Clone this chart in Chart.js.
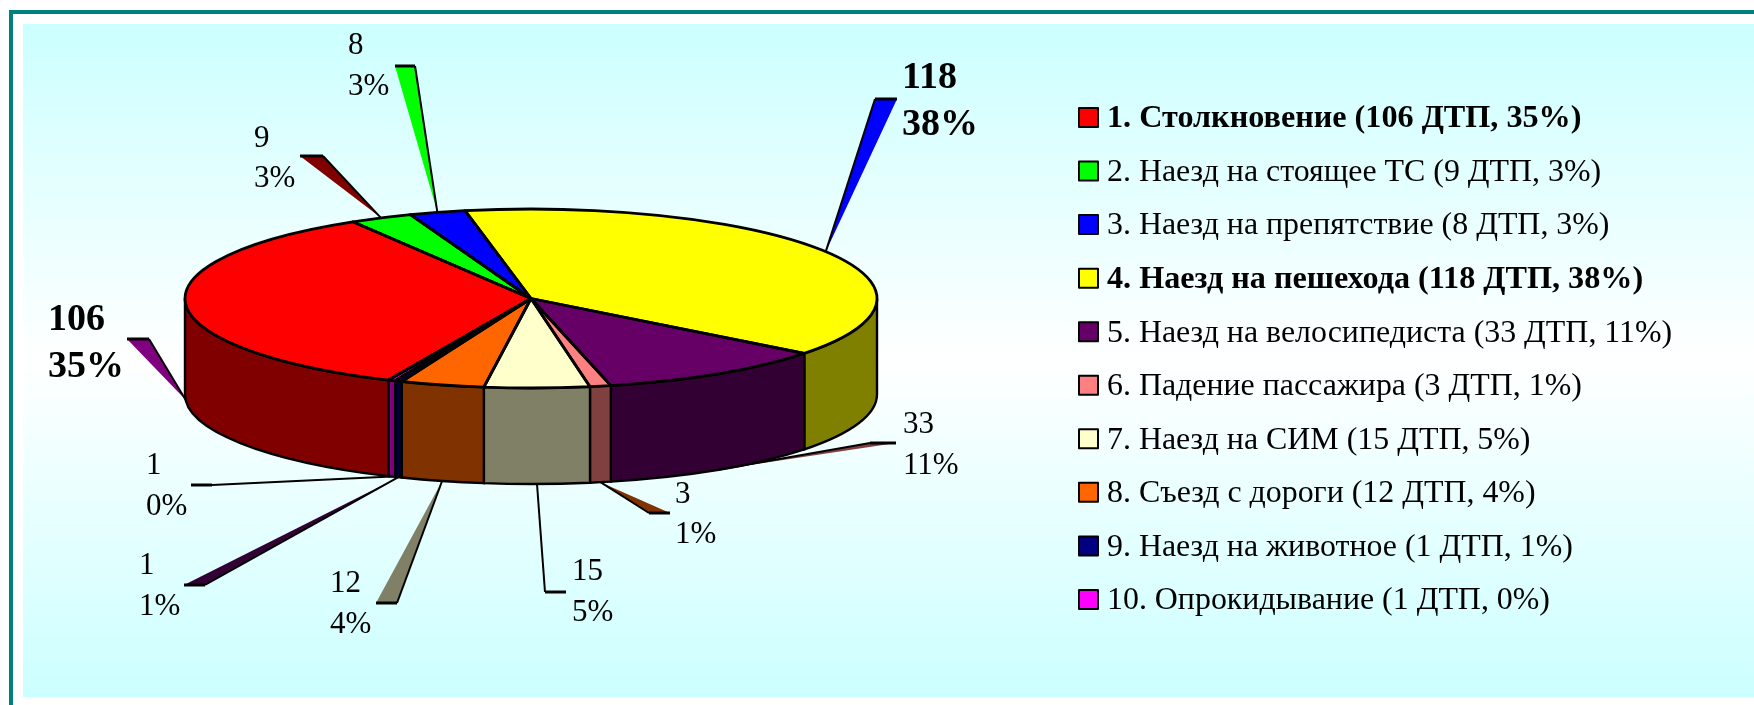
<!DOCTYPE html>
<html><head><meta charset="utf-8">
<style>html,body{margin:0;padding:0;background:#fff}canvas{display:block}</style>
<script src="https://cdn.jsdelivr.net/npm/chart.js@4"></script>
</head><body>
<canvas id="c" width="1754" height="705"></canvas>
<script>
const categories = ["Столкновение","Наезд на стоящее ТС","Наезд на препятствие","Наезд на пешехода","Наезд на велосипедиста","Падение пассажира","Наезд на СИМ","Съезд с дороги","Наезд на животное","Опрокидывание"];
const values = [106,9,8,118,33,3,15,12,1,1];
const percents = [35,3,3,38,11,1,5,4,1,0];
const boldItems = [true,false,false,true,false,false,false,false,false,false];
const topColors = ["#ff0000","#00ff00","#0000ff","#ffff00","#660066","#ff8080","#ffffcc","#ff6600","#000080","#ff00ff"];
const sideColors = ["#800000","#008000","#000080","#808000","#330033","#804040","#808066","#803300","#000040","#800080"];
const wedgeColors = ["#800080","#800000","#00ff00","#0000ff","#804040","#803300",null,"#808066","#330033",null];
// label layout: x of text, y of first and second line
const labelX = [48,254,348,902,903,675,572,330,139,146];
const labelY1 = [320,139,46,78,425,495,572,584,566,466];
const labelY2 = [367,179,87,125,466,535,613,625,607,507];
// callout wedge ends: two x positions, y, which end has the black edge (0/1)
const wedgeX1 = [127,300,395,875,870,649,545,376,184,191];
const wedgeX2 = [149,323,415,897,896,670,566,397,205,212];
const wedgeY  = [339,156,66,99,443,513,592,603,585,485];
const wedgeEdge = [1,1,1,0,0,0,0,1,1,1];

const RX=346, RY=89.5, DEPTH=96, CY=298.5;
const SERIF='"Liberation Serif","Times New Roman",serif';

const pie3d = {
  id:'pie3d',
  beforeDraw(chart){
    const ctx=chart.ctx;
    ctx.save();
    ctx.fillStyle='#fff';ctx.fillRect(0,0,1754,705);
    ctx.fillStyle='#008080';
    ctx.fillRect(9,10,1745,4);
    ctx.fillRect(9,10,4,695);
    const g=ctx.createLinearGradient(0,24,0,697);
    g.addColorStop(0,'#ccffff');g.addColorStop(0.5,'#ffffff');g.addColorStop(1,'#ccffff');
    ctx.fillStyle=g;ctx.fillRect(23,24,1731,673);
    ctx.restore();
  },
  beforeDatasetsDraw(chart){
    const ctx=chart.ctx, arcs=chart.getDatasetMeta(0).data;
    const cx=arcs[0].x;
    // callout wedges, behind the pie
    ctx.save();
    arcs.forEach((a,i)=>{
      const mid=(a.startAngle+a.endAngle)/2;
      const s=Math.sin(mid);
      const tx=cx+RX*Math.cos(mid), ty=CY+RY*s+(s>0?DEPTH:0);
      const y=wedgeY[i], x1=wedgeX1[i], x2=wedgeX2[i];
      if(wedgeColors[i]){
        ctx.fillStyle=wedgeColors[i];
        ctx.beginPath();ctx.moveTo(tx,ty);ctx.lineTo(x1,y);ctx.lineTo(x2,y);ctx.closePath();ctx.fill();
      }
      ctx.strokeStyle='#000';ctx.lineWidth=2;
      ctx.beginPath();ctx.moveTo(tx,ty);ctx.lineTo(wedgeEdge[i]?x2:x1,y);ctx.stroke();
      ctx.lineWidth=3;
      ctx.beginPath();ctx.moveTo(x1,y);ctx.lineTo(x2,y);ctx.stroke();
    });
    // side walls
    const T=Math.PI;
    arcs.forEach((a,i)=>{
      [[0,T],[2*T,3*T],[-2*T,-T]].forEach(w=>{
        const lo=Math.max(a.startAngle,w[0]), hi=Math.min(a.endAngle,w[1]);
        if(lo>=hi) return;
        ctx.beginPath();
        ctx.ellipse(cx,CY,RX,RY,0,lo,hi,false);
        ctx.ellipse(cx,CY+DEPTH,RX,RY,0,hi,lo,true);
        ctx.closePath();
        ctx.fillStyle=sideColors[i];ctx.fill();
        ctx.strokeStyle='#000';ctx.lineWidth=2.4;ctx.stroke();
      });
    });
    ctx.restore();
    // squash the library's arcs into the top ellipse
    ctx.save();
    ctx.translate(0,CY);ctx.scale(1,RY/RX);ctx.translate(0,-arcs[0].y);
  },
  afterDatasetsDraw(chart){
    const ctx=chart.ctx, arcs=chart.getDatasetMeta(0).data;
    ctx.restore();
    const cx=arcs[0].x;
    ctx.save();
    ctx.strokeStyle='#000';ctx.lineWidth=2.8;ctx.lineJoin='round';
    arcs.forEach(a=>{
      ctx.beginPath();ctx.moveTo(cx,CY);
      ctx.ellipse(cx,CY,RX,RY,0,a.startAngle,a.endAngle,false);
      ctx.closePath();ctx.stroke();
    });
    // data labels
    ctx.fillStyle='#000';ctx.textBaseline='middle';ctx.textAlign='left';
    values.forEach((v,i)=>{
      ctx.font=(boldItems[i]?'bold 38px ':'31px ')+SERIF;
      ctx.fillText(String(v),labelX[i],labelY1[i]);
      ctx.fillText(percents[i]+'%',labelX[i],labelY2[i]);
    });
    // legend
    categories.forEach((c,i)=>{
      const y=118+i*53.55;
      ctx.fillStyle=topColors[i];ctx.fillRect(1079,y-10,19,19);
      ctx.strokeStyle='#000';ctx.lineWidth=2;ctx.strokeRect(1079,y-10,19,19);
      ctx.fillStyle='#000';
      ctx.font=(boldItems[i]?'bold 32.2px ':'31.9px ')+SERIF;
      ctx.fillText((i+1)+'. '+c+' ('+values[i]+' ДТП, '+percents[i]+'%)',1107,y+1);
    });
    ctx.restore();
  }
};

new Chart(document.getElementById('c'),{
  type:'pie',
  data:{labels:categories,datasets:[{data:values,backgroundColor:topColors,borderWidth:0,radius:RX,clip:false}]},
  options:{
    responsive:false,animation:false,rotation:204.3,
    layout:{padding:{left:0,right:692,top:0,bottom:0}},
    plugins:{legend:{display:false},tooltip:{enabled:false},title:{display:false}}
  },
  plugins:[pie3d]
});
</script>
</body></html>
